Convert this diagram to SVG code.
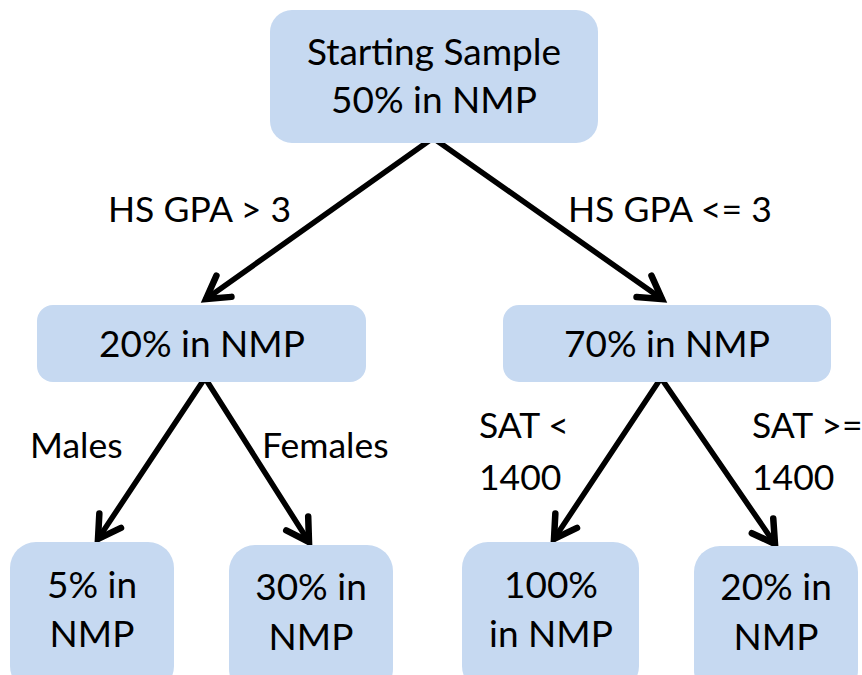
<svg xmlns="http://www.w3.org/2000/svg" width="862" height="675" viewBox="0 0 862 675">
<style>
.box{fill:#c6d9f1;}
.t{font-family:Lato,"Liberation Sans",Arial,sans-serif;font-size:37px;fill:#000;text-anchor:middle;}
.l{font-family:Lato,"Liberation Sans",Arial,sans-serif;font-size:35.5px;fill:#000;}
.c{stroke:#000;stroke-width:5.5;fill:none;stroke-linecap:round;marker-end:url(#ah);}
</style>
<defs>
<marker id="ah" markerUnits="userSpaceOnUse" markerWidth="40" markerHeight="40" viewBox="-30 -20 40 40" refX="0" refY="0" orient="auto">
<path d="M-22,-13 L0,0 L-22,13" fill="none" stroke="#000" stroke-width="6.5" stroke-linecap="round" stroke-linejoin="miter"/>
</marker>
</defs>
<g id="connectors">
<path class="c" d="M433,138 L206,299"/>
<path class="c" d="M433,138 L662,299"/>
<path class="c" d="M205,378 L98,539"/>
<path class="c" d="M205,378 L309,542"/>
<path class="c" d="M661,378 L554,539"/>
<path class="c" d="M661,378 L775,544"/>
</g>
<g id="start">
<rect class="box" x="270" y="10" width="328" height="133" rx="22"/>
<text class="t" x="434" y="65">Starting Sample</text>
<text class="t" x="434" y="113">50% in NMP</text>
</g>
<g id="gpa-high">
<rect class="box" x="37" y="305" width="329" height="77" rx="16"/>
<text class="t" x="202" y="357">20% in NMP</text>
</g>
<g id="gpa-low">
<rect class="box" x="503" y="305" width="328" height="77" rx="16"/>
<text class="t" x="667" y="357">70% in NMP</text>
</g>
<g id="males">
<rect class="box" x="10" y="542" width="164" height="150" rx="26"/>
<text class="t" x="92" y="598">5% in</text>
<text class="t" x="92" y="647">NMP</text>
</g>
<g id="females">
<rect class="box" x="229" y="545" width="164" height="150" rx="26"/>
<text class="t" x="311" y="600">30% in</text>
<text class="t" x="311" y="650">NMP</text>
</g>
<g id="sat-low">
<rect class="box" x="462" y="542" width="177" height="150" rx="26"/>
<text class="t" x="551" y="598">100%</text>
<text class="t" x="551" y="647">in NMP</text>
</g>
<g id="sat-high">
<rect class="box" x="694" y="546" width="164" height="150" rx="26"/>
<text class="t" x="776" y="600">20% in</text>
<text class="t" x="776" y="650">NMP</text>
</g>
<g id="labels">
<text class="l" x="108" y="222">HS GPA &gt; 3</text>
<text class="l" x="568" y="222">HS GPA &lt;= 3</text>
<text class="l" x="30" y="458">Males</text>
<text class="l" x="262" y="458">Females</text>
<text class="l" x="479" y="438">SAT &lt;</text>
<text class="l" x="479" y="490">1400</text>
<text class="l" x="752" y="438">SAT &gt;=</text>
<text class="l" x="752" y="490">1400</text>
</g>
</svg>
